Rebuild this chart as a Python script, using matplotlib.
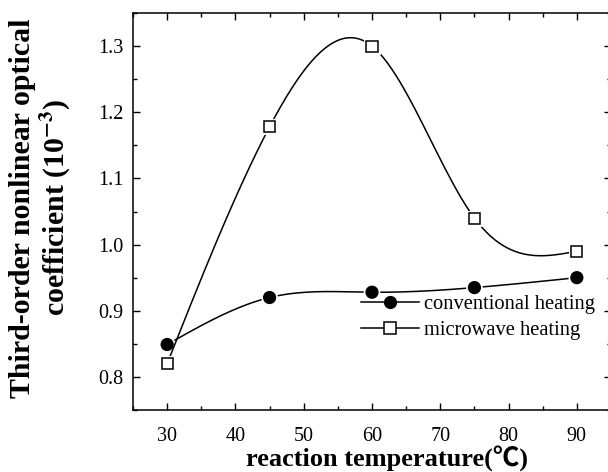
import numpy as np
import matplotlib
matplotlib.use('Agg')
import matplotlib.pyplot as plt
import matplotlib.patheffects as pe
from matplotlib.ticker import MultipleLocator

# data
temps = [30, 45, 60, 75, 90]
conventional = [0.849, 0.920, 0.928, 0.935, 0.950]
microwave = [0.820, 1.178, 1.300, 1.040, 0.990]


def natural_spline(x, y, n=300):
    # natural cubic spline, used only to draw the smooth connecting line
    x = np.asarray(x, float)
    y = np.asarray(y, float)
    h = np.diff(x)
    k = len(x)
    A = np.zeros((k, k))
    b = np.zeros(k)
    A[0, 0] = A[-1, -1] = 1
    for i in range(1, k - 1):
        A[i, i - 1] = h[i - 1]
        A[i, i] = 2 * (h[i - 1] + h[i])
        A[i, i + 1] = h[i]
        b[i] = 6 * ((y[i + 1] - y[i]) / h[i] - (y[i] - y[i - 1]) / h[i - 1])
    M = np.linalg.solve(A, b)
    xs = np.linspace(x[0], x[-1], n)
    idx = np.clip(np.searchsorted(x, xs) - 1, 0, k - 2)
    x0, x1 = x[idx], x[idx + 1]
    hh = x1 - x0
    t0, t1 = x1 - xs, xs - x0
    ys = (M[idx] * t0 ** 3 + M[idx + 1] * t1 ** 3) / (6 * hh) \
        + (y[idx] / hh - M[idx] * hh / 6) * t0 \
        + (y[idx + 1] / hh - M[idx + 1] * hh / 6) * t1
    return xs, ys


plt.rcParams['font.family'] = ['Liberation Serif', 'Noto Sans CJK SC']
plt.rcParams['mathtext.fontset'] = 'stix'

fig = plt.figure(figsize=(6.08, 4.72), dpi=100)
ax = fig.add_axes([133 / 608, 1 - 410 / 472, 478 / 608, 397 / 472])

halo = [pe.withStroke(linewidth=3.5, foreground='white')]

xs, ys = natural_spline(temps, conventional)
ax.plot(xs, ys, color='black', lw=1.1)
ax.plot(temps, conventional, ls='none', marker='o', ms=8.5, color='black',
        path_effects=halo)
xs, ys = natural_spline(temps, microwave)
ax.plot(xs, ys, color='black', lw=1.1)
ax.plot(temps, microwave, ls='none', marker='s', ms=8, mfc='white',
        mec='black', mew=1.1, path_effects=halo)

# legend handles
h1, = ax.plot([], [], color='black', lw=1.1, marker='o', ms=8.5)
h2, = ax.plot([], [], color='black', lw=1.1, marker='s', ms=8, mfc='white',
              mew=1.1)
ax.legend([h1, h2], ['conventional heating', 'microwave heating'],
          loc='upper left', bbox_to_anchor=((361 - 133) / 478, 1 - (295 - 13) / 397),
          frameon=False, fontsize=14.8, handlelength=2.8, handletextpad=0.25,
          labelspacing=0.3, borderpad=0, borderaxespad=0)

ax.set_xlim(25, 95)
ax.set_ylim(0.75, 1.35)
ax.xaxis.set_major_locator(MultipleLocator(10))
ax.xaxis.set_minor_locator(MultipleLocator(5))
ax.yaxis.set_major_locator(MultipleLocator(0.1))
ax.yaxis.set_minor_locator(MultipleLocator(0.05))
ax.tick_params(which='both', direction='in', top=True, right=True,
               labelsize=14.5, width=1)
ax.tick_params(axis='x', which='both', pad=12)
ax.tick_params(axis='y', which='both', pad=7)
ax.tick_params(which='major', length=5)
ax.tick_params(which='minor', length=3)
for s in ax.spines.values():
    s.set_linewidth(1.1)

fig.text(387 / 608, 1 - 467 / 472, 'reaction temperature(\u2103)',
         ha='center', va='baseline', fontsize=19, fontweight='bold')
fig.text(41 / 608, 1 - 208 / 472,
         'Third-order nonlinear optical\ncoefficient (10$^{\\mathbf{-3}}$)',
         ha='center', va='center', rotation=90, multialignment='center',
         fontsize=21.5, fontweight='bold', linespacing=1.1)

fig.savefig('out.png', dpi=100)
